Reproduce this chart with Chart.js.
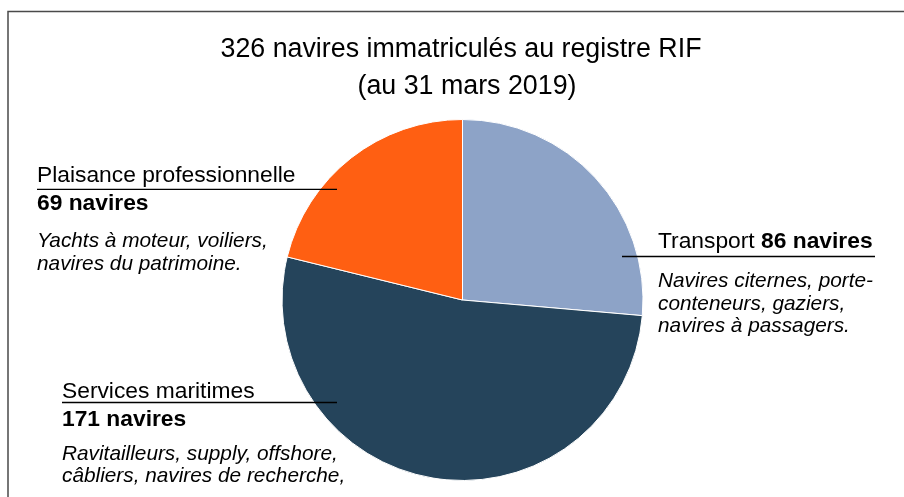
<!DOCTYPE html>
<html>
<head>
<meta charset="utf-8">
<script src="https://cdn.jsdelivr.net/npm/chart.js@4/dist/chart.umd.min.js"></script>
<style>
  html, body { margin: 0; padding: 0; background: #fff; }
  #wrap { width: 904px; height: 497px; position: relative; }
</style>
</head>
<body>
<div id="wrap"><canvas id="rifPie" width="904" height="497"></canvas></div>
<script>
// données du graphique
let categories = ["Transport", "Services maritimes", "Plaisance professionnelle"];
let navires = [86, 171, 69];
let couleurs = ["#8DA3C7", "#25445B", "#FF5F12"];
let titreLignes = ["326 navires immatriculés au registre RIF", "(au 31 mars 2019)"];
let descriptions = [
    ["Navires citernes, porte-", "conteneurs, gaziers,", "navires à passagers."],
    ["Ravitailleurs, supply, offshore,", "câbliers, navires de recherche,"],
    ["Yachts à moteur, voiliers,", "navires du patrimoine."]
];

const FONT = "'Liberation Sans', Arial, sans-serif";

// cadre, titre et étiquettes dessinés à la main
const annotations = {
    id: 'annotations',
    afterDraw(chart) {
        let ctx = chart.ctx;
        ctx.save();

        // cadre
        ctx.strokeStyle = '#4a4a4a';
        ctx.lineWidth = 1.5;
        ctx.beginPath();
        ctx.moveTo(8, 497);
        ctx.lineTo(8, 11.5);
        ctx.lineTo(904, 11.5);
        ctx.stroke();

        // titre
        ctx.fillStyle = '#000';
        ctx.textAlign = 'center';
        ctx.textBaseline = 'alphabetic';
        ctx.font = '26.8px ' + FONT;
        ctx.fillText(titreLignes[0], 461, 57);
        ctx.fillText(titreLignes[1], 467, 94);

        ctx.textAlign = 'left';
        ctx.strokeStyle = '#000';
        ctx.lineWidth = 1.3;

        function trait(x1, x2, y) {
            ctx.beginPath();
            ctx.moveTo(x1, y);
            ctx.lineTo(x2, y);
            ctx.stroke();
        }

        // Transport
        ctx.font = '22.8px ' + FONT;
        let label = categories[0] + ' ';
        ctx.fillText(label, 658, 248);
        let w = ctx.measureText(label).width;
        ctx.font = 'bold 22.8px ' + FONT;
        ctx.fillText(navires[0] + ' navires', 658 + w, 248);
        trait(622, 875, 256.5);
        ctx.font = 'italic 20.8px ' + FONT;
        descriptions[0].forEach(function(l, i) {
            ctx.fillText(l, 658, 287 + i * 22.5);
        });

        // Plaisance professionnelle
        ctx.font = '22.8px ' + FONT;
        ctx.fillText(categories[2], 37, 182);
        trait(37, 337, 189.3);
        ctx.font = 'bold 22.8px ' + FONT;
        ctx.fillText(navires[2] + ' navires', 37, 210);
        ctx.font = 'italic 20.8px ' + FONT;
        descriptions[2].forEach(function(l, i) {
            ctx.fillText(l, 37, 247 + i * 22.5);
        });

        // Services maritimes
        ctx.font = '22.8px ' + FONT;
        ctx.fillText(categories[1], 62, 398);
        trait(62, 337, 402.5);
        ctx.font = 'bold 22.8px ' + FONT;
        ctx.fillText(navires[1] + ' navires', 62, 426);
        ctx.font = 'italic 20.8px ' + FONT;
        descriptions[1].forEach(function(l, i) {
            ctx.fillText(l, 62, 459.5 + i * 22.5);
        });

        ctx.restore();
    }
};

let pieCanvas = document.getElementById('rifPie').getContext('2d');
let pieChart = new Chart(pieCanvas, {
    type: 'pie',
    data: {
        labels: categories,
        datasets: [{
            data: navires,
            backgroundColor: couleurs,
            borderColor: '#ffffff',
            borderWidth: 1
        }]
    },
    options: {
        responsive: false,
        animation: false,
        layout: { padding: { top: 119, bottom: 16, left: 99, right: 78 } },
        plugins: {
            legend: { display: false },
            tooltip: { enabled: false },
            title: { display: false }
        }
    },
    plugins: [annotations]
});
</script>
</body>
</html>
